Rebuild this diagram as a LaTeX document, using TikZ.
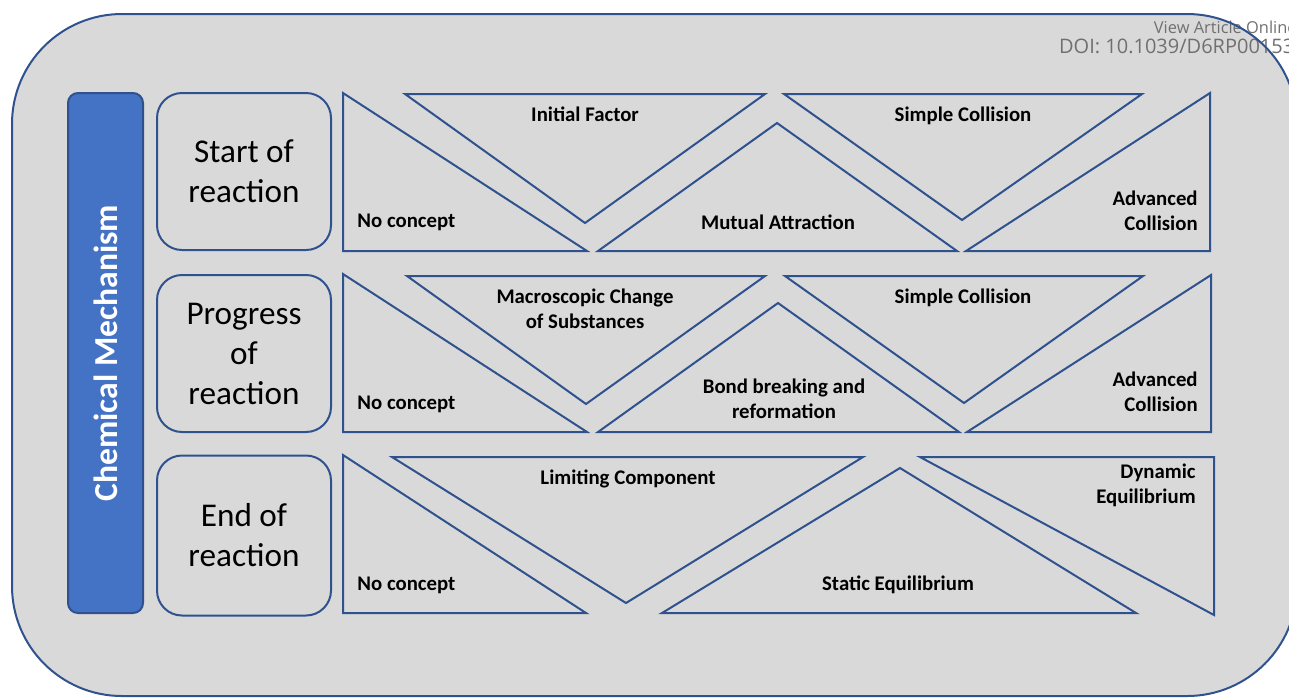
\documentclass[tikz,border=0pt]{standalone}
\usepackage{fontspec}
\setmainfont{Carlito}
\newfontfamily\wmfont{Open Sans}
\definecolor{frameblue}{RGB}{47,82,143}
\definecolor{panelgray}{RGB}{217,217,217}
\definecolor{barblue}{RGB}{68,114,196}
\definecolor{wmgray}{RGB}{112,112,112}
\begin{document}
\begin{tikzpicture}[x=0.5pt,y=-0.5pt,
  panel/.style={draw=frameblue, line width=1pt, fill=panelgray, rounded corners=55pt},
  bar/.style={draw=frameblue, line width=1pt, fill=barblue, rounded corners=5pt,
    rotate=90, minimum width=260pt, minimum height=37.5pt, inner sep=0pt,
    text=white, font=\fontsize{16.8}{20}\selectfont\bfseries},
  stage/.style={draw=frameblue, line width=1pt, rounded corners=12.5pt,
    minimum width=87pt, inner sep=0pt, align=center,
    font=\fontsize{16.6}{20}\selectfont},
  tri/.style={draw=frameblue, line width=1pt, line join=miter},
  lab/.style={inner sep=0pt, align=center, font=\fontsize{10.4}{12.5}\selectfont\bfseries},
  labl/.style={lab, anchor=west, align=left},
  labr/.style={lab, anchor=east, align=right},
  wm/.style={inner sep=0pt, anchor=base east, text=wmgray}]
\useasboundingbox (0,0) rectangle (1289,698);
\clip (0,0) rectangle (1289,698);

% outer panel
\fill[panelgray, rounded corners=55pt] (12,14) rectangle (1297,696);

% article stamp
\node[wm, font=\wmfont\fontsize{8.2}{10}\selectfont] (view) at (1297,33) {View Article Online};
\node[wm, font=\wmfont\fontsize{10}{12}\selectfont] (doi) at (1300,53) {DOI: 10.1039/D6RP00153J};

% panel border on top of the stamp
\draw[panel, fill=none] (12,14) rectangle (1297,696);

% vertical title bar
\node[bar] (chem) at (105.5,353) {Chemical Mechanism};

% stage boxes
\node[stage, minimum height=78.5pt] (start) at (244,171.5) {Start of\\reaction};
\node[stage, minimum height=78.5pt] (prog) at (244,353.5) {Progress\\of\\reaction};
\node[stage, minimum height=80pt] (end) at (244,535.5) {End of\\reaction};

% --- row 1: start of reaction
\draw[tri] (343,93) -- (343,251) -- (587,251) -- cycle;
\draw[tri] (405,94) -- (765,94) -- (585,223) -- cycle;
\draw[tri] (598,251) -- (777,123) -- (957,251) -- cycle;
\draw[tri] (784,94) -- (1142,94) -- (962,220) -- cycle;
\draw[tri] (966,251) -- (1210,93) -- (1210,251) -- cycle;
\node[labl] (r1a) at (357,222.5) {No concept};
\node[lab] (r1b) at (585,114) {Initial Factor};
\node[lab] (r1c) at (778,222) {Mutual Attraction};
\node[lab] (r1d) at (963,115.5) {Simple Collision};
\node[labr] (r1e) at (1198,210.5) {Advanced\\Collision};

% --- row 2: progress of reaction
\draw[tri] (343,274) -- (343,432) -- (587,432) -- cycle;
\draw[tri] (407,276) -- (765,276) -- (586,404) -- cycle;
\draw[tri] (598,432) -- (778,303) -- (959,432) -- cycle;
\draw[tri] (785,276) -- (1143,276) -- (964,403) -- cycle;
\draw[tri] (967,432) -- (1211,275) -- (1211,432) -- cycle;
\node[labl] (r2a) at (357,404.5) {No concept};
\node[lab] (r2b) at (585,308.5) {Macroscopic Change\\of Substances};
\node[lab] (r2c) at (784,398.5) {Bond breaking and\\reformation};
\node[lab] (r2d) at (963,297.5) {Simple Collision};
\node[labr] (r2e) at (1198,392) {Advanced\\Collision};

% --- row 3: end of reaction
\draw[tri] (343,455) -- (343,613) -- (586,613) -- cycle;
\draw[tri] (392,457) -- (863,457) -- (626,603) -- cycle;
\draw[tri] (662,613) -- (900,468) -- (1136,613) -- cycle;
\draw[tri] (920,457) -- (1214,457) -- (1214,615) -- cycle;
\node[labl] (r3a) at (357,585.5) {No concept};
\node[lab] (r3b) at (628,479) {Limiting Component};
\node[lab] (r3c) at (898,585) {Static Equilibrium};
\node[labr] (r3d) at (1196,485.5) {Dynamic\\Equilibrium};
\end{tikzpicture}
\end{document}
